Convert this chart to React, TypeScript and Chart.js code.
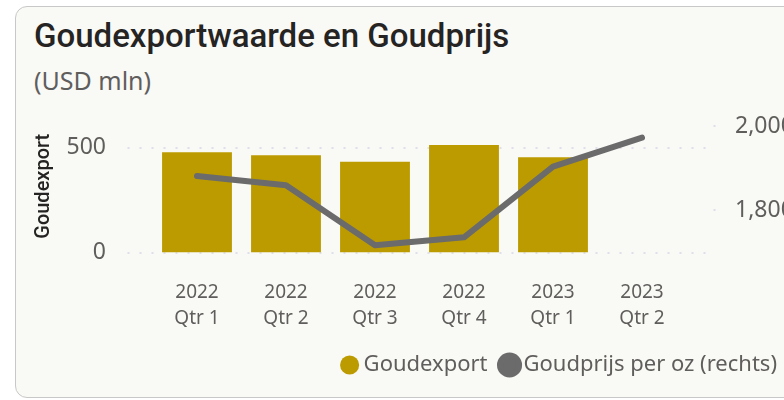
import React, { useEffect, useRef } from "react";
import { Chart, registerables } from "chart.js";

Chart.register(...registerables);

const categories: string[][] = [
  ["2022", "Qtr 1"],
  ["2022", "Qtr 2"],
  ["2022", "Qtr 3"],
  ["2022", "Qtr 4"],
  ["2023", "Qtr 1"],
  ["2023", "Qtr 2"],
];
const goudexport: (number | null)[] = [479, 465, 433, 513, 455, null];
const goudprijs: number[] = [1882, 1860, 1717, 1736, 1904, 1973];
const leftTicks: number[] = [0, 500];
const rightTicks: number[] = [1800, 2000];

const FONT = "'Segoe UI', 'Noto Sans', sans-serif";
const TITLE_FONT = "Roboto, 'DejaVu Sans', sans-serif";

const gridPlugin = {
  id: "dotgrid",
  beforeDatasetsDraw(chart: any) {
    const { ctx, chartArea, scales } = chart;
    const y = scales.y;
    ctx.save();
    ctx.strokeStyle = "#dedfea";
    ctx.lineWidth = 2;
    ctx.setLineDash([2, 10]);
    y.ticks.forEach((t: any) => {
      const py = Math.round(y.getPixelForValue(t.value));
      ctx.beginPath();
      ctx.moveTo(chartArea.left - 25, py);
      ctx.lineTo(chartArea.right + 19, py);
      ctx.stroke();
    });
    const y1 = scales.y1;
    ctx.fillStyle = "#dedfea";
    y1.ticks.forEach((t: any) => {
      const py = Math.round(y1.getPixelForValue(t.value));
      ctx.fillRect(chartArea.right + 27, py - 1, 2, 2);
    });
    ctx.restore();
  },
};

export default function App() {
  const ref = useRef<HTMLCanvasElement | null>(null);
  useEffect(() => {
    if (!ref.current) return;
    const chart = new Chart(ref.current, {
      type: "bar",
      data: {
        labels: categories,
        datasets: [
          {
            type: "bar",
            label: "Goudexport",
            data: goudexport,
            backgroundColor: "#BC9B00",
            borderWidth: 0,
            yAxisID: "y",
            order: 2,
            categoryPercentage: 1,
            barPercentage: 0.785,
          },
          {
            type: "line",
            label: "Goudprijs per oz (rechts)",
            data: goudprijs,
            borderColor: "#6B6B6B",
            backgroundColor: "#6B6B6B",
            borderWidth: 6,
            pointRadius: 0,
            borderCapStyle: "round",
            borderJoinStyle: "round",
            tension: 0,
            yAxisID: "y1",
            order: 1,
          },
        ] as any,
      },
      options: {
        animation: false,
        responsive: false,
        maintainAspectRatio: false,
        layout: { padding: { top: 20, right: 10, bottom: 10, left: 0 } },
        plugins: {
          title: { display: false },
          tooltip: { enabled: false },
          legend: {
            display: true,
            position: "bottom",
            align: "end",
            labels: {
              usePointStyle: true,
              pointStyle: "circle",
              boxWidth: 6,
              boxHeight: 13.5,
              padding: 19,
              color: "#605E5C",
              font: { family: FONT, size: 22 },
              sort: (a: any, b: any) => a.datasetIndex - b.datasetIndex,
            },
          },
        },
        scales: {
          x: {
            grid: { display: false, drawTicks: false },
            border: { display: false },
            ticks: {
              color: "#605E5C",
              padding: 27,
              maxRotation: 0,
              autoSkip: false,
              font: { family: FONT, size: 19, lineHeight: 26 / 19 },
            },
            afterFit: (s: any) => {
              s.height = 82.5;
            },
          },
          y: {
            position: "left",
            min: 0,
            max: 633,
            grid: { display: false, drawTicks: false },
            border: { display: false },
            afterBuildTicks: (s: any) => {
              s.ticks = leftTicks.map((v) => ({ value: v }));
            },
            ticks: {
              color: "#605E5C",
              padding: 46.5,
              font: { family: FONT, size: 23 },
            },
            title: {
              display: true,
              text: "Goudexport",
              color: "#252423",
              padding: { top: 15.5, bottom: 0 },
              font: { family: TITLE_FONT, size: 20, weight: "500" },
            },
            afterFit: (s: any) => {
              s.width = 136.5;
              s.paddingTop = 0;
              s.paddingBottom = 0;
            },
          },
          y1: {
            position: "right",
            min: 1700,
            max: 2015,
            grid: { display: false, drawTicks: false },
            border: { display: false },
            afterBuildTicks: (s: any) => {
              s.ticks = rightTicks.map((v) => ({ value: v }));
            },
            ticks: {
              color: "#605E5C",
              padding: 48.5,
              font: { family: FONT, size: 23 },
              callback: (v: any) => Number(v).toLocaleString("en-US"),
            },
            afterFit: (s: any) => {
              s.width = 109.5;
              s.paddingTop = 0;
              s.paddingBottom = 0;
            },
          },
        },
      },
      plugins: [gridPlugin],
    });
    return () => chart.destroy();
  }, []);

  return (
    <div
      style={{
        position: "absolute",
        left: 0,
        top: 0,
        width: 784,
        height: 400,
        overflow: "hidden",
        background: "#ffffff",
      }}
    >
      <div
        style={{
          position: "absolute",
          left: 15,
          top: 6,
          width: 820,
          height: 392,
          border: "1.5px solid #c8c8c8",
          borderRadius: 12,
          background: "#F9F9F6",
          boxSizing: "border-box",
        }}
      />
      <div
        style={{
          position: "absolute",
          left: 34,
          top: 16,
          fontFamily: TITLE_FONT,
          fontWeight: 500,
          fontSize: 33,
          color: "#252423",
          whiteSpace: "nowrap",
          lineHeight: "40px",
        }}
      >
        Goudexportwaarde en Goudprijs
      </div>
      <div
        style={{
          position: "absolute",
          left: 34,
          top: 62,
          fontFamily: FONT,
          fontSize: 25,
          color: "#605E5C",
          whiteSpace: "nowrap",
          lineHeight: "36px",
        }}
      >
        (USD mln)
      </div>
      <canvas
        ref={ref}
        width={790}
        height={296}
        style={{ position: "absolute", left: 16, top: 100, width: 790, height: 296 }}
      />
    </div>
  );
}
